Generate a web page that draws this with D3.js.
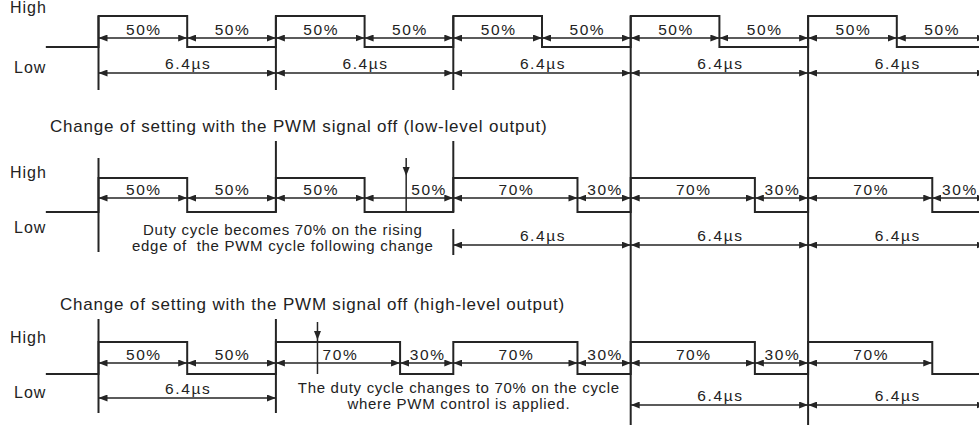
<!DOCTYPE html>
<html>
<head>
<meta charset="utf-8">
<script src="https://cdn.jsdelivr.net/npm/d3@7"></script>
<style>
  body { margin: 0; background: #fff; }
  text { font-family: "Liberation Sans", Arial, sans-serif; fill: #222; }
</style>
</head>
<body>
<svg id="chart" width="979" height="433"></svg>
<script>
const svg = d3.select("#chart");

// ---- data ----
const periodUs = 6.4;
const cycleCount = 5;
const idleStartUs = -1.9;
const levelLabels = ["High", "Low"];
const rowTitles = ["",
  "Change of setting with the PWM signal off (low-level output)",
  "Change of setting with the PWM signal off (high-level output)"];
const dutyRow1 = [50, 50, 50, 50, 50];
const dutyRow2 = [50, 50, 70, 70, 70];
const dutyRow3 = [50, 70, 70, 70, 70];
const lowArrowRow1 = [true, true, true, true, true];
const lowArrowRow2 = [true, true, true, true, true];
const lowArrowRow3 = [true, true, true, true, false];
const periodRow1 = [0, 1, 2, 3, 4];
const periodRow2 = [2, 3, 4];
const periodRow3 = [0, 3, 4];
const changeUs = [null, 11.1, 7.9];   // moment the setting is changed
const noteRow2 = ["Duty cycle becomes 70% on the rising", "edge of  the PWM cycle following change"];
const noteRow3 = ["The duty cycle changes to 70% on the cycle", "where PWM control is applied."];
const noteAtUs = [null, 6.65, 13.0];

// ---- layout ----
const rows = [
  { duty: dutyRow1, lowArrow: lowArrowRow1, periods: periodRow1, note: [],
    high: 16, low: 47, arrow: 38, periodY: [73, 73], highLbl: 13, lowLbl: 73, titleX: 0, titleY: 0, noteY: [],
    guides: [{ c: 0, y1: 16, y2: 90 }, { c: 1, y1: 16, y2: 90 }, { c: 2, y1: 16, y2: 90 }] },
  { duty: dutyRow2, lowArrow: lowArrowRow2, periods: periodRow2, note: noteRow2,
    high: 178, low: 212, arrow: 198, periodY: [245, 245], highLbl: 178, lowLbl: 233, titleX: 50, titleY: 132, noteY: [235, 251],
    guides: [{ c: 0, y1: 158, y2: 252 }, { c: 1, y1: 141, y2: 212 }, { c: 2, y1: 141, y2: 212 }, { c: 2, y1: 229, y2: 255 }] },
  { duty: dutyRow3, lowArrow: lowArrowRow3, periods: periodRow3, note: noteRow3,
    high: 342, low: 374, arrow: 363, periodY: [398, 405], highLbl: 343, lowLbl: 398, titleX: 60, titleY: 310, noteY: [393, 409],
    guides: [{ c: 0, y1: 319, y2: 413 }, { c: 1, y1: 319, y2: 413 }] }
];
const longGuides = [3, 4];

const x = d3.scaleLinear().domain([0, cycleCount * periodUs]).range([98.5, 985.5]);

const ink = "#252525";

// arrowhead marker
svg.append("defs").append("marker")
    .attr("id", "head")
    .attr("markerUnits", "userSpaceOnUse")
    .attr("viewBox", "0 0 9 7")
    .attr("refX", 9).attr("refY", 3.5)
    .attr("markerWidth", 9).attr("markerHeight", 7)
    .attr("orient", "auto-start-reverse")
  .append("path")
    .attr("d", "M0,0L9,3.5L0,7Z")
    .attr("fill", ink);

function arrow(g, t0, t1, y) {
  g.append("line")
      .attr("x1", x(t0)).attr("x2", x(t1))
      .attr("y1", y).attr("y2", y)
      .attr("stroke", ink).attr("stroke-width", 1.5)
      .attr("marker-start", "url(#head)")
      .attr("marker-end", "url(#head)");
}

// long guides through all rows
longGuides.forEach(c => {
  svg.append("line")
      .attr("x1", x(c * periodUs)).attr("x2", x(c * periodUs))
      .attr("y1", rows[0].high).attr("y2", 425)
      .attr("stroke", ink).attr("stroke-width", 2);
});

rows.forEach((row, ri) => {
  const g = svg.append("g");
  const level = d3.scaleOrdinal().domain([1, 0]).range([row.high, row.low]);

  // labels
  g.append("text").attr("x", 10).attr("y", row.highLbl)
      .attr("font-size", 16).attr("letter-spacing", 1).text(levelLabels[0]);
  g.append("text").attr("x", 14).attr("y", row.lowLbl)
      .attr("font-size", 16).attr("letter-spacing", 1).text(levelLabels[1]);
  if (rowTitles[ri]) {
    g.append("text").attr("x", row.titleX).attr("y", row.titleY)
        .attr("font-size", 17).attr("letter-spacing", 0.8).text(rowTitles[ri]);
  }

  // waveform
  const pts = [{ t: idleStartUs, v: 0 }];
  row.duty.forEach((d, c) => {
    pts.push({ t: c * periodUs, v: 1 });
    pts.push({ t: c * periodUs + d / 100 * periodUs, v: 0 });
  });
  pts.push({ t: cycleCount * periodUs, v: 0 });
  g.append("path")
      .datum(pts)
      .attr("d", d3.line().x(d => x(d.t)).y(d => level(d.v)).curve(d3.curveStepAfter))
      .attr("fill", "none").attr("stroke", ink).attr("stroke-width", 2);

  // guides
  row.guides.forEach(gd => {
    g.append("line")
        .attr("x1", x(gd.c * periodUs)).attr("x2", x(gd.c * periodUs))
        .attr("y1", gd.y1).attr("y2", gd.y2)
        .attr("stroke", ink).attr("stroke-width", 2);
  });

  // duty arrows and labels
  const ch = changeUs[ri];
  row.duty.forEach((d, c) => {
    const t0 = c * periodUs, tf = t0 + d / 100 * periodUs, t1 = t0 + periodUs;
    const segs = [{ a: t0, b: tf, lbl: d + "%" }];
    if (row.lowArrow[c]) segs.push({ a: tf, b: t1, lbl: (100 - d) + "%" });
    segs.forEach(s => {
      arrow(g, s.a, s.b, row.arrow);
      const inside = ch !== null && ch > s.a && ch < s.b;
      g.append("text")
          .attr("x", inside ? x(ch) + 5 : (x(s.a) + x(s.b)) / 2 + 1)
          .attr("y", row.arrow - 3)
          .attr("text-anchor", inside ? "start" : "middle")
          .attr("font-size", 15.5).attr("letter-spacing", 1.6)
          .text(s.lbl);
    });
  });

  // period arrows
  row.periods.forEach((c, i) => {
    const y = i === 0 ? row.periodY[0] : row.periodY[1];
    arrow(g, c * periodUs, (c + 1) * periodUs, y);
    g.append("text")
        .attr("x", x((c + 0.5) * periodUs) + 1).attr("y", y - 4)
        .attr("text-anchor", "middle")
        .attr("font-size", 15.5).attr("letter-spacing", 1.6)
        .text(periodUs + "\u00b5s");
  });

  // change marker
  if (ch !== null) {
    g.append("line")
        .attr("x1", x(ch)).attr("x2", x(ch))
        .attr("y1", row.high - 20).attr("y2", row.low)
        .attr("stroke", ink).attr("stroke-width", 1.5);
    g.append("path")
        .attr("d", `M${x(ch) - 3.5},${row.high - 11}L${x(ch) + 3.5},${row.high - 11}L${x(ch)},${row.high - 2}Z`)
        .attr("fill", ink);
  }

  // note
  row.note.forEach((line, i) => {
    g.append("text")
        .attr("x", x(noteAtUs[ri])).attr("y", row.noteY[i])
        .attr("text-anchor", "middle")
        .attr("font-size", 15).attr("letter-spacing", 0.7)
        .attr("xml:space", "preserve")
        .style("white-space", "pre")
        .text(line);
  });
});
</script>
</body>
</html>
